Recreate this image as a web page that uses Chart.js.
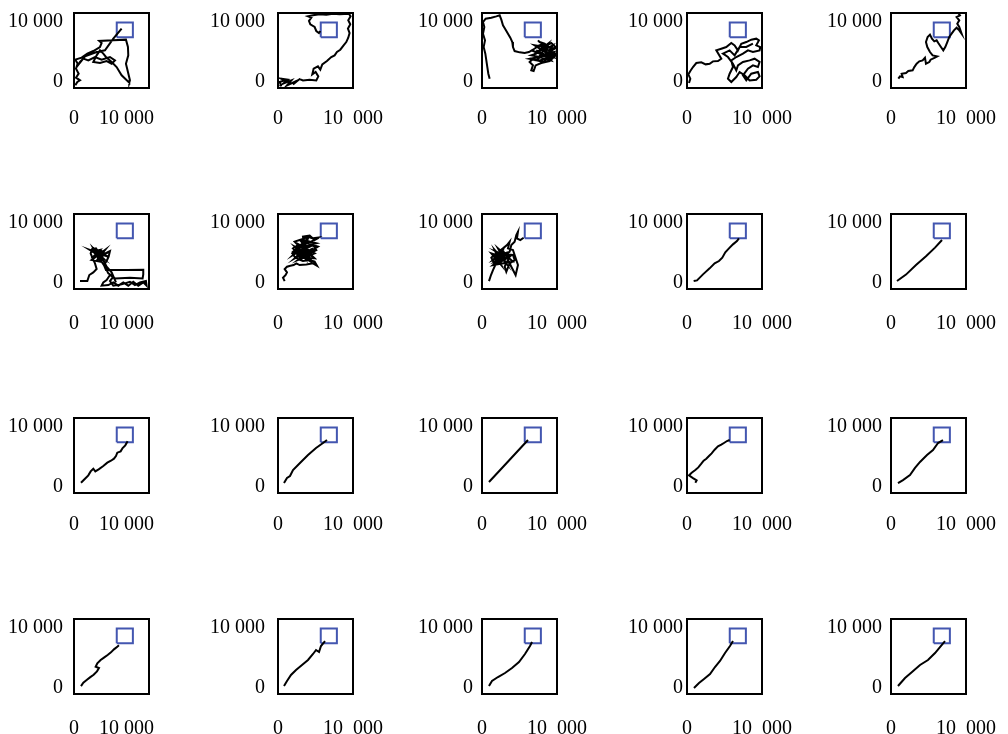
<!DOCTYPE html>
<html>
<head>
<meta charset="utf-8">
<script src="https://cdn.jsdelivr.net/npm/chart.js@4.4.0/dist/chart.umd.min.js"></script>
<style>
    html, body { margin: 0; padding: 0; background: #fff; overflow: hidden; }
    #grid { position: relative; width: 1008px; height: 734px; }
    #grid canvas { position: absolute; }
</style>
</head>
<body>
<div id="grid"></div>
<script>
// 20 trajectories (row by row)
const track1X = [178, 444, 800, 266, 622, 266, 488, 178, 1021, 1776, 2575, 3463, 3685, 3374, 5239, 6926, 7193, 7237, 6926, 7193, 7459, 7370, 6349, 5683, 5017, 4262, 3907, 3463, 3019, 2575, 3463, 4351, 5017, 5461, 4795, 3685, 2797, 1909, 1243, 800, 355, 1465, 3019, 4129, 5239, 6349];
const track1Y = [-556, 0, 278, 722, 1389, 2222, 3056, 3722, 4056, 4722, 5167, 5833, 6500, 6833, 6944, 7056, 5833, 4444, 3056, 1667, 278, -111, 1111, 2500, 3333, 4167, 4722, 5278, 4444, 3333, 3167, 3500, 3056, 3611, 4167, 3722, 4167, 3611, 3889, 3333, 2500, 4278, 5000, 5278, 7222, 8889];

const track2X = [444, 222, 888, 444, 1332, 666, 1776, 1199, 2442, 1998, 2886, 3330, 4218, 5106, 5372, 5017, 4573, 4751, 5328, 5639, 5905, 6527, 7104, 7548, 7859, 8303, 8747, 9102, 9368, 9546, 9324, 9635, 9368, 9680, 9457, 8214, 7326, 6438, 5550, 4662, 3996, 4440, 4129, 4307, 4884, 5106, 5461, 5639];
const track2Y = [-730, 0, 270, 550, 380, -290, 270, -565, 160, -400, 490, 270, 380, 270, 940, 1660, 1270, 2215, 2600, 2050, 2940, 3490, 4160, 4440, 5000, 5380, 6110, 6660, 7390, 8160, 8890, 9610, 10280, 10940, 11390, 11280, 11390, 11220, 11280, 11110, 10940, 10720, 10170, 9610, 9165, 8500, 8160, 8500];

const track3X = [1021, 844, 710, 577, 444, 222, 400, 133, 311, 133, 488, 1243, 1909, 2353, 2575, 2797, 3152, 3463, 3774, 4040, 4129, 4351, 5017, 5683, 6260, 6793, 7326, 7903, 8569, 9235, 9812, 9013, 8125, 7237, 6571, 7681, 8791, 9679, 9457, 8569, 7681, 6793, 6349, 6793, 6571, 6882, 7148, 7903, 9013, 9812, 8125, 9457, 8569, 7237, 9013, 7681, 6571, 9457, 7015, 9679, 7459, 8791, 6793, 9235, 7903, 9901, 6349, 8347, 9235, 8347, 7681, 7459];
const track3Y = [550, 1380, 2490, 3600, 4720, 5830, 6940, 8050, 9160, 10000, 10550, 10720, 10940, 11110, 10390, 9440, 8720, 8050, 7390, 6660, 5830, 5160, 4940, 4830, 5000, 5380, 5830, 6270, 6110, 6500, 5830, 5270, 5550, 4720, 4440, 4160, 4720, 5000, 4160, 3880, 3600, 3880, 3330, 2770, 1940, 1830, 2770, 3160, 3490, 4440, 5270, 6110, 4440, 5270, 3880, 4720, 5270, 4160, 6110, 5550, 3880, 6380, 4440, 3600, 5830, 4720, 3880, 3330, 5550, 6380, 6660, 6940];

const track4X = [266, 444, 178, 444, 799, 1243, 1909, 2486, 3019, 3463, 4129, 4573, 3907, 4573, 5239, 5905, 6349, 6793, 7237, 7903, 8569, 9235, 9590, 9235, 9768, 9679, 8791, 8125, 7459, 6571, 5905, 6127, 5683, 5461, 5905, 6571, 7015, 7681, 8347, 9235, 9679, 9457, 8569, 7903, 7459, 8125, 8791, 9457, 9679, 9013, 8347, 7459, 6793, 6571, 6127, 5461, 4795, 5683, 6349, 7015, 7903, 8791];
const track4Y = [-180, 550, 1270, 1830, 2490, 3160, 3270, 2940, 3050, 3440, 3490, 3880, 5270, 5550, 5830, 6500, 6110, 5270, 6380, 6660, 7050, 7220, 6940, 6110, 5830, 5270, 5000, 5270, 4720, 4160, 3600, 2490, 1380, 550, 0, 830, 1660, 1100, 270, 380, 940, 1660, 1380, 270, 1100, 2210, 2770, 2490, 3330, 3880, 3600, 3330, 2770, 1940, 3050, 4160, 4720, 5270, 4440, 5830, 5830, 6380];

const track5X = [977, 1199, 1554, 1421, 1998, 2309, 2886, 3108, 3419, 3774, 4218, 4529, 4662, 5106, 5284, 5861, 6172, 5550, 5195, 4840, 4662, 4884, 5195, 5461, 5772, 6083, 6305, 6660, 6971, 7237, 7504, 7770, 8081, 8392, 8747, 9102, 9413, 9102, 8836, 9102, 8747, 9191, 8969];
const track5Y = [550, 940, 830, 1380, 1490, 1830, 1940, 2490, 3050, 3440, 3600, 4050, 3050, 3330, 3720, 4050, 4270, 4440, 5000, 5830, 6660, 7500, 7890, 7220, 6770, 6940, 6500, 5830, 5270, 5830, 6660, 7500, 8050, 8610, 9050, 8610, 8050, 9160, 9720, 10280, 10830, 11110, 11500];

const track6X = [799, 1776, 2042, 2575, 3019, 2797, 2486, 2220, 2398, 2930, 3286, 3685, 3996, 4440, 4795, 4618, 4351, 3996, 4262, 4795, 7015, 9235, 9235, 9146, 7459, 5461, 4795, 4351, 3907, 3685, 4573, 5239, 5905, 6571, 7237, 7903, 8569, 9235, 9679, 9590, 8791, 8125, 7459, 6349, 5239, 4795, 5239, 4573, 4129, 3685, 3374, 3019, 2664, 2353, 3463, 2575, 3907, 3019, 4351, 2797, 3685, 3241, 4573, 2131, 3907, 2575, 3463, 2353, 4129, 3241, 3907, 4351, 5017, 5594];
const track6Y = [320, 320, 1330, 1770, 2330, 3270, 4110, 4940, 5660, 5770, 5110, 5330, 4770, 5110, 5330, 4380, 3660, 2990, 2160, 2160, 2160, 2210, 1440, 770, 880, 770, 1330, 490, 100, -450, -340, 100, -450, 100, -450, 210, -450, 100, -450, 320, 100, -340, 210, -230, -450, 320, 1050, 1600, 2720, 3550, 4380, 4770, 5330, 5220, 5500, 4380, 4660, 3830, 4940, 4940, 4110, 5220, 4380, 5500, 4110, 5770, 3550, 3830, 5500, 4110, 3830, 2720, 1770, 100];

const track7X = [888, 666, 1021, 1199, 888, 1199, 1643, 2087, 2442, 2886, 3774, 4662, 5195, 4884, 4218, 3330, 2664, 2220, 1909, 2442, 1998, 2664, 2220, 2886, 3552, 3996, 4662, 5328, 4440, 3552, 2886, 3774, 4662, 5106, 4218, 3108, 2442, 3330, 4440, 4884, 3996, 2886, 2220, 2886, 3774, 1998, 4218, 2220, 4662, 2664, 4884, 2886, 4218, 2442, 5106, 3330, 4440, 1998, 3996, 2886, 5328, 3108, 4662, 2220, 3774, 3330, 4218, 4884, 5461];
const track7Y = [320, 880, 1330, 1770, 2330, 2720, 2880, 2990, 3270, 2990, 3100, 3270, 2880, 3550, 3830, 3660, 3990, 4380, 4940, 5220, 5770, 6330, 6890, 7160, 7440, 7720, 7440, 7550, 6890, 6610, 6050, 5770, 6330, 5500, 4940, 5220, 4380, 4380, 4660, 4110, 4110, 4770, 5500, 5770, 6890, 4660, 6330, 4110, 5770, 3830, 4940, 6330, 4110, 5770, 6610, 7160, 3550, 5220, 7440, 4110, 6050, 6890, 4380, 6050, 3830, 7720, 7890, 7160, 7550];

const track8X = [932, 1199, 1465, 1732, 1465, 1243, 1687, 2264, 1998, 2575, 2886, 2353, 2797, 3330, 3685, 3463, 4129, 4795, 4484, 3907, 3463, 3019, 3241, 3685, 4351, 4129, 3152, 2353, 1909, 1687, 2353, 3019, 1465, 3019, 1687, 3241, 1909, 3685, 2131, 2797, 1465, 3463, 2353, 1909, 1243, 2575, 1687, 3241, 2131, 4129, 1465, 3685, 3907, 4351, 4573, 4795, 4662, 5106, 5550];
const track8Y = [320, 1330, 2160, 2880, 3660, 4220, 4770, 5110, 4110, 3660, 4380, 5330, 5770, 6330, 6890, 5770, 5500, 2990, 1330, 2720, 3830, 2720, 1880, 3270, 3830, 4660, 4770, 3270, 3550, 4380, 4660, 5220, 4380, 4940, 3550, 4110, 5220, 4380, 3270, 5500, 3830, 4940, 4110, 4660, 4940, 2990, 5500, 3270, 5770, 3550, 2990, 5220, 6330, 6890, 8000, 8550, 7440, 7160, 7550];

const track9X = [888, 1332, 2131, 3019, 3685, 4262, 4706, 5106, 5594, 6127, 6660, 6926];
const track9Y = [320, 440, 1440, 2440, 3270, 3660, 4220, 5110, 5770, 6440, 7000, 7440];

const track10X = [800, 2000, 3333, 4667, 5867, 6800];
const track10Y = [330, 1400, 3000, 4450, 5900, 7170];

const track11X = [932, 1465, 1909, 2220, 2575, 2842, 3286, 3907, 4440, 4928, 5328, 5594, 5772, 6216, 6482, 6838, 7148];
const track11Y = [710, 1380, 1940, 2600, 3050, 2600, 2940, 3490, 4050, 4380, 4720, 5160, 5720, 5940, 6500, 6940, 7610];

const track12X = [800, 1200, 1600, 2000, 2930, 4000, 5070, 6000, 6530];
const track12Y = [660, 1500, 1830, 2830, 4000, 5330, 6500, 7330, 7830];

const track13X = [930, 2670, 4400, 6130];
const track13Y = [830, 3170, 5500, 7830];

const track14X = [1110, 1288, 799, 266, 622, 1110, 1510, 1909, 2220, 2575, 2930, 3286, 3685, 4129, 4573, 4928, 5328, 5683];
const track14Y = [710, 1100, 1490, 1940, 2380, 2830, 3270, 3880, 4380, 4720, 5160, 5610, 6220, 6770, 7050, 7330, 7660, 7830];

const track15X = [930, 1600, 2530, 3200, 3870, 4800, 5600, 6270, 6930];
const track15Y = [660, 1160, 2000, 3170, 4170, 5330, 6170, 7330, 7830];

const track16X = [932, 1243, 1687, 2131, 2620, 3064, 3330, 2886, 3108, 3552, 4040, 4484, 4928, 5328, 5772, 5994];
const track16Y = [320, 880, 1330, 1770, 2210, 2770, 3330, 3550, 4110, 4660, 5110, 5500, 5940, 6440, 6890, 7110];

const track17X = [800, 1200, 1730, 2400, 3200, 4000, 4670, 5070, 5470, 5730, 6270];
const track17Y = [330, 1160, 2170, 3000, 3830, 4670, 5670, 6330, 6000, 7000, 7830];

const track18X = [930, 1330, 2130, 3070, 4000, 4930, 5730, 6400, 6670];
const track18Y = [330, 1160, 1830, 2500, 3330, 4330, 5670, 7000, 7670];

const track19X = [930, 1600, 2270, 3070, 3730, 4400, 5070, 5730, 6130];
const track19Y = [0, 830, 1500, 2330, 3500, 4500, 5830, 7000, 7830];

const track20X = [930, 1870, 2800, 3870, 4930, 5870, 6530, 7200];
const track20Y = [330, 1670, 2670, 3830, 4670, 5830, 6830, 7830];

// the blue target square, same in every panel
const targetX = [5700, 7850, 7850, 5700, 5700];
const targetY = [7450, 7450, 9900, 9900, 7450];

// ticks
const tickValues = [0, 10000];
const yTickLabels = ['0', '10 000'];
const xTickLabels = ['0', '10\u00a0\u00a0000'];
const xTickLabelsFirstCol = ['0', '10 000' + '\u00a0'.repeat(9)];

const tracks = [
    [track1X, track1Y], [track2X, track2Y], [track3X, track3Y], [track4X, track4Y], [track5X, track5Y],
    [track6X, track6Y], [track7X, track7Y], [track8X, track8Y], [track9X, track9Y], [track10X, track10Y],
    [track11X, track11Y], [track12X, track12Y], [track13X, track13Y], [track14X, track14Y], [track15X, track15Y],
    [track16X, track16Y], [track17X, track17Y], [track18X, track18Y], [track19X, track19Y], [track20X, track20Y]
];

// layout of the grid (pixels)
const boxLefts = [74, 278, 482, 687, 891];
const boxTops = [13, 214, 418, 619];
const boxSize = 75;
const yLabelGap = [11, 13, 9, 4, 9];
const xLabelPad = [19, 23, 20, 23];
const canvasW = 230, canvasH = 160, padTop = 30, yAxisW = 74;

const serif = '"Liberation Serif", "Times New Roman", serif';

// frame round the plot area
const framePlugin = {
    id: 'frame',
    afterDraw(chart) {
        const { ctx, chartArea: a } = chart;
        ctx.save();
        ctx.strokeStyle = '#000';
        ctx.lineWidth = 2;
        ctx.strokeRect(a.left, a.top, a.right - a.left, a.bottom - a.top);
        ctx.restore();
    }
};

const toPoints = (xs, ys) => xs.map((x, i) => ({ x: x, y: ys[i] }));

const grid = document.getElementById('grid');

tracks.forEach(([xs, ys], i) => {
    const row = Math.floor(i / 5);
    const col = i % 5;

    const canvas = document.createElement('canvas');
    canvas.width = canvasW;
    canvas.height = canvasH;
    canvas.style.left = (boxLefts[col] - yAxisW) + 'px';
    canvas.style.top = (boxTops[row] - padTop) + 'px';
    canvas.style.width = canvasW + 'px';
    canvas.style.height = canvasH + 'px';
    grid.appendChild(canvas);

    const xLabels = col === 0 ? xTickLabelsFirstCol : xTickLabels;

    new Chart(canvas.getContext('2d'), {
        type: 'scatter',
        data: {
            datasets: [{
                data: toPoints(xs, ys),
                showLine: true,
                borderColor: '#000',
                borderWidth: 2,
                pointRadius: 0,
                tension: 0
            }, {
                data: toPoints(targetX, targetY),
                showLine: true,
                borderColor: '#4356b0',
                borderWidth: 2,
                pointRadius: 0,
                tension: 0
            }]
        },
        options: {
            responsive: false,
            maintainAspectRatio: false,
            animation: false,
            devicePixelRatio: 1,
            layout: { padding: { top: padTop, right: canvasW - yAxisW - boxSize, left: 0, bottom: 0 } },
            plugins: { legend: { display: false }, tooltip: { enabled: false } },
            scales: {
                x: {
                    type: 'linear',
                    min: 0,
                    max: 10000,
                    grid: { display: false, drawTicks: false },
                    border: { display: false },
                    afterBuildTicks: s => { s.ticks = tickValues.map(v => ({ value: v })); },
                    afterFit: s => { s.height = canvasH - padTop - boxSize; },
                    ticks: {
                        autoSkip: false,
                        maxRotation: 0,
                        padding: xLabelPad[row],
                        color: '#000',
                        font: { family: serif, size: 20 },
                        callback: (v, idx) => xLabels[idx]
                    }
                },
                y: {
                    type: 'linear',
                    min: -1000,
                    max: 11500,
                    grid: { display: false, drawTicks: false },
                    border: { display: false },
                    afterBuildTicks: s => { s.ticks = tickValues.map(v => ({ value: v })); },
                    afterFit: s => { s.width = yAxisW; },
                    ticks: {
                        autoSkip: false,
                        padding: yLabelGap[col],
                        color: '#000',
                        font: { family: serif, size: 20 },
                        callback: (v, idx) => yTickLabels[idx]
                    }
                }
            }
        },
        plugins: [framePlugin]
    });
});
</script>
</body>
</html>
